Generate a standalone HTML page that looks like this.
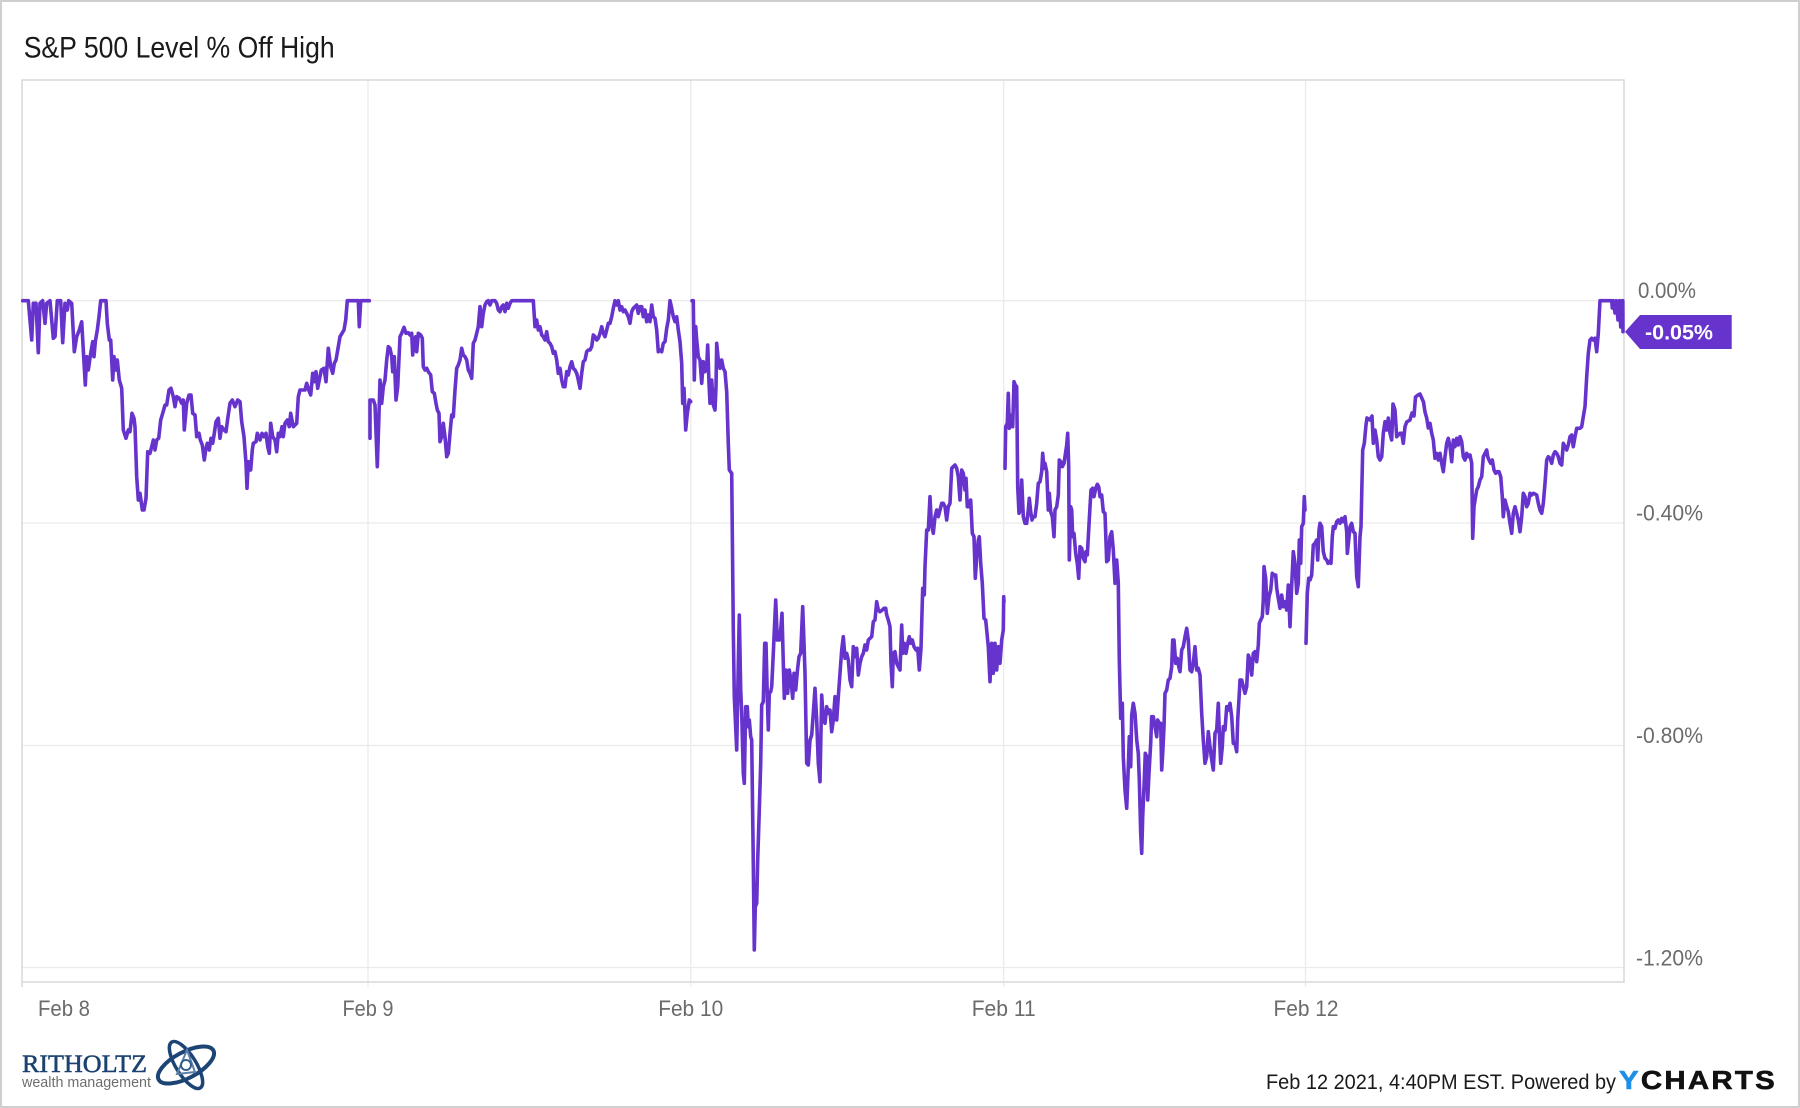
<!DOCTYPE html>
<html>
<head>
<meta charset="utf-8">
<style>
  html,body{margin:0;padding:0;background:#fff;}
  svg{display:block;}
  text{font-family:"Liberation Sans",Arial,sans-serif;}
</style>
</head>
<body>
<svg width="1800" height="1108" viewBox="0 0 1800 1108" xmlns="http://www.w3.org/2000/svg">
  <rect x="0" y="0" width="1800" height="1108" fill="#ffffff"/>
  <rect x="1" y="1" width="1798" height="1106" fill="none" stroke="#cfcfcf" stroke-width="2"/>

  <!-- Title -->
  <text x="23.7" y="57.3" font-size="30" fill="#1a1a1a" textLength="311" lengthAdjust="spacingAndGlyphs">S&amp;P 500 Level % Off High</text>

  <!-- gridlines -->
  <g stroke="#ebebeb" stroke-width="1.3" fill="none">
    <line x1="22" y1="300.7" x2="1624" y2="300.7"/>
    <line x1="22" y1="523" x2="1624" y2="523"/>
    <line x1="22" y1="745.5" x2="1624" y2="745.5"/>
    <line x1="22" y1="967.5" x2="1624" y2="967.5"/>
    <line x1="368" y1="80" x2="368" y2="987"/>
    <line x1="690.7" y1="80" x2="690.7" y2="987"/>
    <line x1="1003.7" y1="80" x2="1003.7" y2="987"/>
    <line x1="1305.5" y1="80" x2="1305.5" y2="987"/>
  </g>
  <!-- plot border -->
  <rect x="22" y="80" width="1602" height="902" fill="none" stroke="#d9d9d9" stroke-width="1.5"/>
  <line x1="22" y1="982" x2="22" y2="987" stroke="#d9d9d9" stroke-width="1.5"/>

  <!-- Y labels -->
  <g font-size="22" fill="#6b6b6b">
    <text x="1638" y="298.2" textLength="58" lengthAdjust="spacingAndGlyphs">0.00%</text>
    <text x="1636" y="520.7" textLength="67" lengthAdjust="spacingAndGlyphs">-0.40%</text>
    <text x="1636" y="743.2" textLength="67" lengthAdjust="spacingAndGlyphs">-0.80%</text>
    <text x="1636" y="965.7" textLength="67" lengthAdjust="spacingAndGlyphs">-1.20%</text>
  </g>

  <!-- X labels -->
  <g font-size="22" fill="#6b6b6b">
    <text x="38" y="1016" textLength="52" lengthAdjust="spacingAndGlyphs">Feb 8</text>
    <text x="368" y="1016" text-anchor="middle" textLength="51" lengthAdjust="spacingAndGlyphs">Feb 9</text>
    <text x="690.7" y="1016" text-anchor="middle" textLength="65" lengthAdjust="spacingAndGlyphs">Feb 10</text>
    <text x="1003.7" y="1016" text-anchor="middle" textLength="64" lengthAdjust="spacingAndGlyphs">Feb 11</text>
    <text x="1306" y="1016" text-anchor="middle" textLength="65" lengthAdjust="spacingAndGlyphs">Feb 12</text>
  </g>

  <!-- Series -->
  <g fill="none" stroke="#6633cc" stroke-width="3.6" stroke-linejoin="round" stroke-linecap="round">
    <!-- Feb 8 -->
    <polyline points="22.7,300.7 28.3,300.7 31.7,340 33.3,303.3 36,303.3 38.3,352.7 40,303.3 42.7,300.7 45,323.3 46.7,303.3 50,300.7 53.3,338.3 55,336.7 57.3,300.7 60.7,300.7 62.7,342.7 65,303.3 67.3,310 68.7,300.7 71.7,303.3 74.3,351.7 76.7,336.7 79.3,330 81.7,321.7 83.3,350 85.3,385 86.7,356.7 88.3,370 90.7,353.3 92.7,341.7 94,356.7 95.3,341.7 97.3,330 99,316.7 100.7,300.7 106,300.7 107.3,323.3 109.3,340 110.7,340 112.7,380 114,356.7 115.7,370 117.3,360 119.3,380 121.7,388.3 123.3,430 126,438.3 128.3,430 130,431.7 132,413.3 134,418.3 135,426.7 136.7,476.7 138.3,500 140,493.3 142.3,510 144,510 146,498.3 147.7,451.7 150,453.3 151.7,446.7 153.3,440 155,450 156.7,440 158.7,438.3 160.7,420 162.7,413.3 165,405 166.7,405 169,390 171,388.3 173.3,396.7 175,406.7 176.7,396.7 179.3,398.3 181.7,403.3 183.3,400 184.3,430 186.7,403.3 189,395 191,395 192.7,413.3 195,415 196.7,436.7 199,433.3 200.3,440 202.3,445 204.3,460 205.7,450 207.3,443.3 209.3,450 211,438.3 212.7,443.3 214.3,433.3 216,421.7 218.3,418.3 220,438.3 221.7,426.7 224,430 226,431.7 228,416.7 230,403.3 232.3,400 235,406.7 237.7,400 240,401.7 241.7,421.7 244,436.7 246,463.3 247,488.3 248.3,461.7 250.7,470 252.3,450 253.3,443.3 256,441.7 257.3,433.3 260,440 262,433.3 264,436.7 266,433.3 267.7,446.7 269.3,453.3 270.7,423.3 272.7,436.7 275,440 276.7,451.7 278.3,433.3 280,436.7 282,426.7 283.3,436.7 285,423.3 287.3,420 289.3,426.7 290.7,413.3 293.3,426.7 296.7,423.3 298.3,396.7 300,390 302.7,390 305,390 306.7,383.3 308.7,390 310.7,395 312.7,373.3 314.3,381.7 316,371.7 317.7,388.3 319.3,380 321.3,370 324,368.3 326,381.7 328.3,348.3 330.7,366.7 332.7,373.3 334.3,363.3 336,360 338.3,346.7 340,336.7 342,333.3 344,330 345.7,320 347.3,300.7 358.3,300.7 359.3,326.7 360.7,300.7 369.3,300.7"/>
    <!-- Feb 9 -->
    <polyline points="370,438.3 370,400 373.3,400 375,405 377.3,466.7 378.7,423.3 380,380 381.7,403.3 383.3,386.7 385,380 386.7,360 388.3,346.7 390,348.3 391.7,356.7 392.7,371.7 394.3,356.7 396,400 397.7,386.7 400,336.7 401.7,333.3 404,327.3 406,333.3 408.3,332.7 410,335 411.7,333.3 412.7,355 414,340 415.7,336.7 416.7,351.7 418.3,333.3 420.7,335 422.3,338.3 423.3,366.7 425,370 426.7,368.3 428.3,371.7 430.7,375 432.3,391.7 434.3,393.3 436,403.3 437.3,410 439,413.3 440,441.7 441.7,436.7 443.3,423.3 445,436.7 446.7,456.7 448.3,453.3 450,433.3 451.7,415 453.3,416.7 455,390 456.7,368.3 458.3,365 460,360 461.7,348.3 463.3,355 465,356.7 466.7,360 468.3,370 470,373.3 471.7,378.3 473.3,343.3 475,340 476.7,333.3 478.3,326.7 480,306.7 481.7,326.7 483.3,313.3 485,305 486.7,301.7 488.3,300.7 490,305 491.7,300.7 495,300.7 496.7,303.3 498.3,310 500,311.7 501.7,306.7 503.3,305 505,311.7 506.7,303.3 508.3,308.3 510,303.3 511.7,300.7 533.3,300.7 535,326.7 536.7,320 538.3,330 540,326.7 541.7,335 543.3,336.7 545,340 546.7,331.7 548.3,341.7 550,343.3 551.7,346.7 553.3,353.3 555,351.7 556.7,360 558.3,373.3 560,368.3 561.7,380 563.3,386.7 565,386.7 566.7,371.7 568.3,375 570,366.7 571.7,361.7 573.3,368.3 575,370 576.7,373.3 578.3,380 580,388.3 581.7,373.3 583.3,361.7 585,360 586.7,351.7 588.3,350 590,350 591.7,346.7 593.3,335 595,336.7 596.7,340 598.3,338.3 600,333.3 601.7,326.7 603.3,333.3 605,336.7 606.7,330 608.3,323.3 610,323.3 611.7,316.7 613.3,308.3 615,300.7 616.7,305 618.3,300.7 620,310 621.7,306.7 623.3,311.7 625,310 626.7,313.3 628.3,316.7 630,323.3 631.7,311.7 633.3,308.3 635,306.7 636.7,305 638.3,313.3 640,306.7 641.7,306.7 643.3,316.7 645,310 646.7,321.7 648.3,315 650,321.7 651.7,305 653.3,316.7 655,318.3 656.7,330 658.3,351.7 660,350 661.7,351.7 663.3,343.3 665,341.7 666.7,328.3 668.3,320 670,300.7 671.7,308.3 673.3,316.7 675,321.7 676.7,316.7 678.3,330 680,341.7 681.7,363.3 682.7,403.3 684,388.3 685.7,430 687.3,413.3 689.3,400 690.7,401.7"/>
    <!-- Feb 10 -->
    <polyline points="692,300.7 693.3,300.7 694.3,380 695.7,326.7 696.7,340 698.3,356.7 700,360 701.7,383.3 703.3,361.7 705,371.7 706.7,366.7 707.7,345 709,383.3 710,403.3 711.7,380 713.3,405 715,410 716,386.7 716.7,343.3 718.3,360 720,368.3 721.7,360 723.3,368.3 725,371.7 726.7,391.7 728.3,443.3 729.3,470 731.7,473.3 733.3,630 734.3,696.7 736.7,750 738.3,663.3 739.3,615 740.7,690 741.7,713.3 743.3,773.3 744.3,783.3 745.7,706.7 747.3,706.7 748.3,726.7 749.3,720 750.7,736.7 751.7,740 753.3,863.3 754.3,950 755.3,906.7 756.7,903.3 757.7,860 759.3,810 760.7,763.3 761.7,705 763.3,701.7 764.7,643.3 766,643.3 767.3,696.7 768.3,730 769.3,693.3 770.7,691.7 771.7,686.7 773.3,653.3 775.7,600 777.3,640 779.3,640 780.7,630 782,613.3 783.3,663.3 784.3,698.3 786,670 787.7,693.3 789.3,670 791,680 792.7,698.3 794,673.3 795.7,690 797.3,671.7 799,656.7 800.7,653.3 802.7,606.7 804,643.3 805,673.3 806.7,763.3 808.3,765 810,740 811.7,735 813.3,713.3 815,688.3 816.7,720 818.3,763.3 820,781.7 821.7,695 823.3,720 825,723.3 826.7,706.7 828.3,713.3 830,710 831.7,731.7 833.3,720 835,696.7 836.7,720 838.3,696.7 840,673.3 841.7,650 843.3,636.7 845,658.3 846.7,653.3 848.3,660 850,680 851.7,686.7 853.3,646.7 855,656.7 856.7,648.3 858.3,675 860,663.3 861.7,656.7 863.3,653.3 865,645 866.7,650 868.3,640 870,638.3 871.7,636.7 873.3,621.7 875,620 876.7,601.7 878.3,610 880,611.7 882.3,610 884,608.3 885.7,608.3 886.7,615 888.3,620 890,626.7 891,663.3 892.3,686.7 893.3,653.3 895,651.7 896.7,663.3 898.3,666.7 900,670 901.7,625 902.7,653.3 904.3,643.3 906,653.3 907.7,643.3 909.3,636.7 910.7,643.3 912.3,640 914,646.7 916,650 917.7,648.3 919.3,670 921,648.3 922.7,588.3 924.3,595 925,566.7 926.7,530 928.3,530 930,496.7 931.3,523.3 933.3,533.3 935,516.7 936.7,510 938.3,516.7 940,510 941.7,503.3 943.3,503.3 945,506.7 946.7,520 948.3,506.7 950,503.3 951.7,468.3 953.3,466.7 955,465 956.7,468.3 958.3,476.7 960,500 961.7,470 963.3,473.3 965,490 966,478.3 967.3,506.7 969,506.7 970.7,500 972.3,533.3 974,536.7 975.3,578.3 976.7,556.7 978.3,540 979.3,536.7 980.7,563.3 982.3,583.3 984,618.3 985.7,620 986.7,630 988.3,646.7 990,681.7 991.7,643.3 993.3,673.3 995,643.3 996.7,670 998.3,646.7 1000,663.3 1001.7,640 1003.3,630 1003.7,596.7 1004,601.7"/>
    <!-- Feb 11 -->
    <polyline points="1005,468.3 1005.7,426.7 1007.3,423.3 1008.3,393.3 1009.3,428.3 1010.7,425 1011.7,415 1012.7,426.7 1014,381.7 1015.3,385 1016.7,386.7 1017.7,486.7 1019,513.3 1020.3,510 1021.7,480 1023.3,516.7 1025,523.3 1026.7,523.3 1028.3,510 1029.3,498.3 1030.7,511.7 1032,520 1033.3,516.7 1035,516.7 1036.7,503.3 1038.3,483.3 1040,481.7 1041.7,471.7 1042.7,453.3 1044,468.3 1045,463.3 1046.7,471.7 1048.3,510 1049.3,493.3 1050.7,511.7 1052.3,516.7 1054,536.7 1055,510 1056.7,506.7 1058.3,495 1059.3,460 1060.7,461.7 1062.3,466.7 1064,463.3 1065,456.7 1066.7,445 1067.7,433.3 1068.7,466.7 1069.3,560 1070.7,506.7 1071.7,510 1072.7,536.7 1074,533.3 1075.7,553.3 1077.3,563.3 1078.7,578.3 1080,546.7 1081.7,548.3 1083.3,558.3 1085,561.7 1086,551.7 1087.3,555 1088.7,530 1090,506.7 1091,490 1092.7,488.3 1094,496.7 1095.7,488.3 1097.3,484.3 1098.7,486.7 1100,496.7 1101.7,495 1103.3,511.7 1105,513.3 1106.7,561.7 1108.3,560 1110,536.7 1111.7,531.7 1113.3,550 1115,583.3 1116.7,560 1118.3,583.3 1119.3,660 1120.7,718.3 1122.3,703.3 1123.3,756.7 1125,790 1126.7,808.3 1128.3,766.7 1129.3,736.7 1130.7,766.7 1131.7,715 1133.3,703.3 1135,713.3 1136.7,740 1138.3,753.3 1139.3,780 1140.7,833.3 1141.7,853.3 1142.7,816.7 1144,786.7 1145.3,753.3 1146.7,756.7 1147.7,800 1149,773.3 1150.7,743.3 1151.7,716.7 1153.3,716.7 1155,726.7 1156.7,736.7 1157.7,720 1159.3,723.3 1160.7,723.3 1161.7,770 1162.7,753.3 1164,726.7 1165,693.3 1166.7,690 1168.3,680 1170,678.3 1171.7,666.7 1172.7,640 1174,640 1175.7,663.3 1177.3,658.3 1178.7,666.7 1180,671.7 1181.7,650 1183.3,646.7 1185,636.7 1186.7,628.3 1188.3,640 1190,670 1191.7,671.7 1193.3,663.3 1195,646.7 1196.7,670 1198.3,668.3 1200,675 1201.7,713.3 1203.3,740 1205,763.3 1206.7,756.7 1208.3,731.7 1210,746.7 1211.7,760 1213.3,770 1215,733.3 1216.7,730 1218.3,703.3 1219.3,731.7 1220.7,763.3 1222.3,746.7 1223.3,726.7 1225,730 1226.7,706.7 1228.3,710 1230,703.3 1231.7,716.7 1233.3,743.3 1235,743.3 1236.7,751.7 1237.7,720 1239.3,693.3 1240,680 1241.7,680 1243.3,686.7 1245,693.3 1246.7,686.7 1248.3,655 1250,660 1251.7,675 1253.3,653.3 1255,651.7 1256.7,661.7 1258.3,645 1259.3,623.3 1260.7,620 1262.3,616.7 1263.3,600 1264,566.7 1265.7,578.3 1267.3,613.3 1269,596.7 1270.7,590 1272.3,573.3 1274,575 1275.7,575 1276.7,588.3 1278.3,598.3 1280,608.3 1281.7,595 1283.3,606.7 1285,601.7 1286.7,610 1288.3,585 1290,626.7 1291.7,585 1293.3,551.7 1295,563.3 1296.7,593.3 1298.3,583.3 1299.3,540 1300.7,563.3 1301.7,526.7 1303.3,523.3 1304.3,496.7 1305,510"/>
    <!-- Feb 12 -->
    <polyline points="1306,643.3 1307.3,593.3 1308.7,578.3 1310,580 1311.7,575 1313.3,545 1315,543.3 1316.7,540 1317.7,560 1319,530 1320,523.3 1321.7,526.7 1323.3,551.7 1325,558.3 1326.7,560 1328,563.3 1329.3,561.7 1331,563.3 1332.3,536.7 1333.3,526.7 1335,528.3 1336.7,521.7 1338.3,520 1340,523.3 1341.7,518.3 1343.3,521.7 1345,516.7 1346.7,531.7 1347.3,553.3 1348.7,540 1350,526.7 1351.7,523.3 1353.3,531.7 1355,533.3 1356.7,576.7 1358.3,586.7 1360,536.7 1361,526.7 1362.7,450 1364.3,443.3 1366,425 1367,418 1370,420 1372,416 1373.3,443.3 1375,430 1376.7,440 1378.3,456.7 1380,460 1381.7,456.7 1383.3,433.3 1385,421.7 1386.7,430 1388.3,418 1390,433.3 1391.7,440 1393,404 1395,410 1396.7,436.7 1398.3,435 1400,433.3 1401.7,433.3 1403.3,443.3 1405,426.7 1406.7,422 1410,420 1412,413 1414,416 1415.5,397 1418,395 1420,394 1423.5,402 1425,412 1426.7,418 1428.3,428 1430,423.3 1431.7,433.3 1433.3,440 1435,458.3 1436.7,453.3 1438.3,460 1440,453.3 1441.7,463.3 1443.3,471.7 1445,456.7 1446.7,443.3 1448.3,438.3 1450,446.7 1451.7,461.7 1453.3,440 1455,446.7 1456.7,438.3 1458.3,445 1460,436.7 1461.7,441.7 1463.3,456.7 1465,460 1466.7,453.3 1468.3,456.7 1470,455 1471.7,463.3 1472.7,538.3 1474,506.7 1475.3,498.3 1476.7,490 1478.3,486.7 1480,480 1481.7,476.7 1483.3,456.7 1485,453.3 1486.7,450 1487.7,456.7 1489,460 1490.7,463.3 1492.3,460 1494,470 1495.7,473.3 1497.3,471.7 1499,471.7 1500.7,476.7 1502.3,496.7 1503.3,516.7 1505,500 1506.7,506.7 1508.3,511.7 1510,523.3 1511.7,533.3 1513.3,513.3 1515,506.7 1516.7,513.3 1518.3,520 1520,531.7 1521.7,516.7 1523.3,493.3 1525,496.7 1526.7,506.7 1528.3,503.3 1530,493.3 1531.7,495 1533.3,493.3 1535,494 1536.7,495 1538.3,503.3 1540,510 1541.7,513.3 1543.3,503.3 1545,483.3 1546.7,460 1548.3,456.7 1550,458.3 1551.7,463.3 1553.3,455 1555,451.7 1556.7,453.3 1558.3,456.7 1560,463.3 1561.7,465 1563.3,443.3 1565,446.7 1566.7,450 1568.3,445 1570,436.7 1571.7,435 1573.3,446.7 1575,436.7 1576.7,428.3 1578.3,428.3 1580,428.3 1581.7,426.7 1583.3,416.7 1585,406.7 1586.7,376.7 1588.3,353.3 1590,340 1591.7,338.3 1593.3,340 1595,338.3 1596.7,351.7 1598.3,333.3 1600,300.7 1611.7,300.7 1612.3,308 1613.2,300.7 1615,313 1616.2,300.7 1618,320 1619.5,300.7 1620.7,327 1622,300.7 1622.8,300.7 1623,331.7"/>
  </g>

  <!-- Last value tag -->
  <polygon points="1625,331.7 1640,315 1731.7,315 1731.7,349 1640,349" fill="#6633cc"/>
  <text x="1679" y="339.5" font-size="21" font-weight="bold" fill="#ffffff" text-anchor="middle" textLength="68" lengthAdjust="spacingAndGlyphs">-0.05%</text>

  <!-- Logo -->
  <text x="22" y="1072" font-size="25" fill="#1b4270" textLength="125" lengthAdjust="spacingAndGlyphs" stroke="#1b4270" stroke-width="0.5" style="font-family:'Liberation Serif',serif">RITHOLTZ</text>
  <text x="22" y="1087" font-size="15" fill="#6e6e6e" textLength="129" lengthAdjust="spacingAndGlyphs">wealth management</text>
  <g transform="translate(186,1065)" fill="none">
    <ellipse rx="31" ry="13" transform="rotate(-28)" stroke="#1c4576" stroke-width="4"/>
    <ellipse rx="27" ry="10" transform="rotate(58)" stroke="#1c4576" stroke-width="3.5"/>
    <path d="M-9,9 L1,-15 L9,7 Z" stroke="#5d7fa6" stroke-width="2"/>
    <circle cx="0" cy="0" r="5" stroke="#34608f" stroke-width="2"/>
  </g>

  <!-- Footer -->
  <text x="1266" y="1089" font-size="21" fill="#1a1a1a" textLength="350" lengthAdjust="spacingAndGlyphs">Feb 12 2021, 4:40PM EST. Powered by</text>
  <text x="1619" y="1089" font-size="26" font-weight="bold" fill="#111" stroke="#111" stroke-width="0.6" letter-spacing="2" textLength="158" lengthAdjust="spacingAndGlyphs"><tspan fill="#1e8fe6" stroke="#1e8fe6">Y</tspan>CHARTS</text>
</svg>
</body>
</html>
